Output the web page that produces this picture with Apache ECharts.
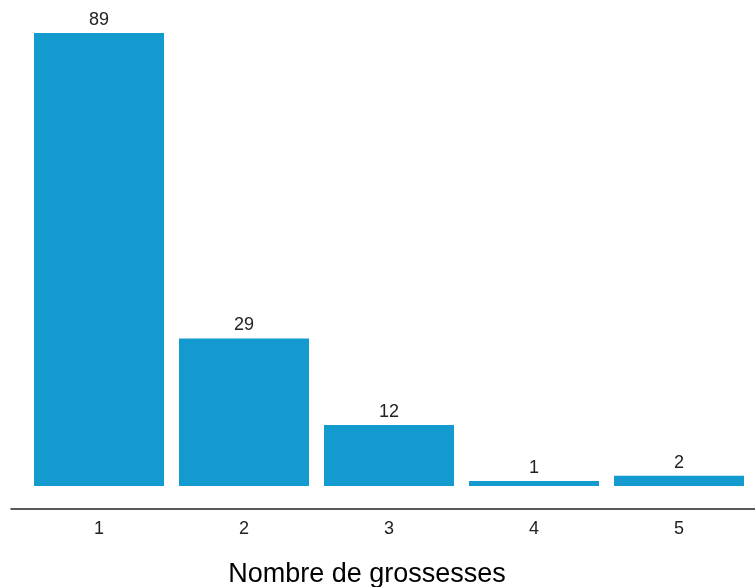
<!DOCTYPE html>
<html>
<head>
<meta charset="utf-8">
<script src="https://cdn.jsdelivr.net/npm/echarts@6/dist/echarts.min.js"></script>
<style>html,body{margin:0;padding:0;background:#fff}#c{width:755px;height:587px}</style>
</head>
<body>
<div id="c"></div>
<script>
const categories = [1, 2, 3, 4, 5];
const counts = [89, 29, 12, 1, 2];
const xTitle = "Nombre de grossesses";

const chart = echarts.init(document.getElementById('c'), null, {renderer: 'canvas'});
const font = "'Liberation Sans', Arial, Helvetica, sans-serif";
chart.setOption({
  animation: false,
  backgroundColor: '#ffffff',
  grid: {left: 11, right: 0, top: 0, bottom: 78, containLabel: false, outerBoundsMode: 'none'},
  xAxis: {
    type: 'value',
    min: 0.393, max: 5.524,
    name: xTitle,
    nameLocation: 'middle',
    nameGap: 52,
    nameTextStyle: {fontSize: 27, color: '#000', fontFamily: font, padding: [0, 32, 0, 0]},
    axisLine: {onZero: false, lineStyle: {color: '#222', width: 1.5}},
    axisTick: {show: false},
    splitLine: {show: false},
    axisLabel: {customValues: categories, fontSize: 18, color: '#222', fontFamily: font, margin: 11}
  },
  yAxis: {
    type: 'value', min: -4.52, max: 95.48,
    show: false,
    splitLine: {show: false}
  },
  series: [{
    type: 'bar',
    data: categories.map((c, i) => [c, counts[i]]),
    barWidth: 130,
    itemStyle: {color: '#139ACF'},
    label: {show: true, position: 'top', distance: 4, fontSize: 18, color: '#222', fontFamily: font}
  }]
});
</script>
</body>
</html>
